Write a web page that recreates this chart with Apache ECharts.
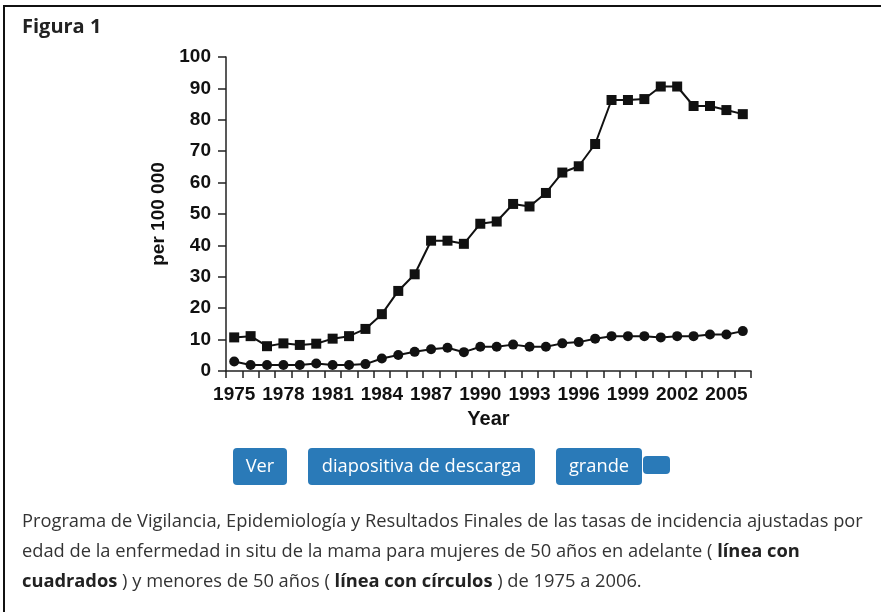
<!DOCTYPE html>
<html>
<head>
<meta charset="utf-8">
<script src="https://cdn.jsdelivr.net/npm/echarts@6/dist/echarts.min.js"></script>
<style>
html,body{margin:0;padding:0;background:#fff;}
#chart{width:881px;height:612px;}
</style>
</head>
<body>
<div id="chart"></div>
<script>
// ---- data ----
var years = ['1975','1976','1977','1978','1979','1980','1981','1982','1983','1984','1985','1986','1987','1988','1989','1990','1991','1992','1993','1994','1995','1996','1997','1998','1999','2000','2001','2002','2003','2004','2005','2006'];
// women aged 50 and over (line with squares)
var over50 = [10.7,11.1,7.9,8.8,8.3,8.7,10.3,11.1,13.4,18.1,25.5,30.8,41.5,41.5,40.5,46.9,47.6,53.2,52.4,56.7,63.2,65.2,72.3,86.3,86.3,86.6,90.6,90.6,84.4,84.4,83.1,81.8];
// women under 50 (line with circles)
var under50 = [3.0,1.9,1.9,1.9,1.9,2.4,1.9,1.9,2.2,4.0,5.1,6.1,6.9,7.4,6.0,7.7,7.7,8.4,7.7,7.7,8.8,9.2,10.3,11.1,11.1,11.1,10.7,11.1,11.1,11.6,11.6,12.7];
var yTicks = {min: 0, max: 100, interval: 10};
var titleText = 'Figura 1';
var yName = 'per 100 000';
var xName = 'Year';
var buttons = ['Ver', 'diapositiva de descarga', 'grande'];
var captionLines = [
  'Programa de Vigilancia, Epidemiología y Resultados Finales de las tasas de incidencia ajustadas por',
  'edad de la enfermedad in situ de la mama para mujeres de 50 años en adelante ( {b|línea con}',
  '{b|cuadrados} ) y menores de 50 años ( {b|línea con círculos} ) de 1975 a 2006.'
];

var chart = echarts.init(document.getElementById('chart'), null, {renderer: 'canvas'});
var axisFont = {fontFamily: 'Liberation Sans, Arial, sans-serif', fontWeight: 'bold', fontSize: 19, color: '#111'};
var uiFont = '"Open Sans", Lato, sans-serif';

// buttons geometry
var btnX = [233, 308, 556];
var btnW = [54, 227, 86];
var graphics = [
  {type: 'rect', shape: {x: 4, y: 6, width: 1000, height: 800}, style: {fill: 'none', stroke: '#111', lineWidth: 2}, silent: true, z: 0}
];
buttons.forEach(function (b, i) {
  graphics.push({
    type: 'rect', shape: {x: btnX[i], y: 448, width: btnW[i], height: 37, r: 4},
    style: {fill: '#2a7ab8'}, z: 1
  });
  graphics.push({
    type: 'text', x: btnX[i] + btnW[i] / 2, y: 467,
    style: {text: b, fill: '#ffffff', font: '18.3px ' + uiFont, textAlign: 'center', textVerticalAlign: 'middle'}, z: 2
  });
});
graphics.push({type: 'rect', shape: {x: 643, y: 456, width: 27, height: 18, r: 4}, style: {fill: '#2a7ab8'}, z: 1});
captionLines.forEach(function (t, i) {
  graphics.push({
    type: 'text', x: 22, y: 522 + i * 30,
    style: {
      text: t, fill: '#333333', font: '18.3px ' + uiFont, textVerticalAlign: 'middle',
      rich: {b: {fontWeight: 'bold', fontSize: 18.3, fontFamily: uiFont, fill: '#222222'}}
    }, z: 2
  });
});

var option = {
  backgroundColor: '#ffffff',
  animation: false,
  title: {
    text: titleText, left: 22, top: 17, padding: 0,
    textStyle: {fontFamily: uiFont, fontWeight: 'bold', fontSize: 20, color: '#222'}
  },
  grid: {left: 226, top: 57, width: 525, height: 314, containLabel: false},
  xAxis: {
    type: 'category', data: years, boundaryGap: true,
    name: xName, nameLocation: 'middle', nameGap: 38,
    nameTextStyle: {fontFamily: axisFont.fontFamily, fontWeight: 'bold', fontSize: 20, color: '#111'},
    axisLine: {lineStyle: {color: '#222', width: 1.5}},
    axisTick: {show: true, interval: 0, length: 7, lineStyle: {color: '#222', width: 1.5}},
    axisLabel: Object.assign({interval: 2, margin: 14}, axisFont),
    splitLine: {show: false}
  },
  yAxis: {
    type: 'value', min: yTicks.min, max: yTicks.max, interval: yTicks.interval,
    name: yName, nameLocation: 'middle', nameGap: 56, nameRotate: 90,
    nameTextStyle: {fontFamily: axisFont.fontFamily, fontWeight: 'bold', fontSize: 19, color: '#111'},
    axisLine: {show: true, lineStyle: {color: '#222', width: 1.5}},
    axisTick: {show: true, length: 8, lineStyle: {color: '#222', width: 1.5}},
    axisLabel: Object.assign({margin: 15}, axisFont),
    splitLine: {show: false}
  },
  series: [
    {
      name: '≥50', type: 'line', data: over50, symbol: 'rect', symbolSize: 10,
      lineStyle: {color: '#111', width: 2}, itemStyle: {color: '#111'}, z: 3
    },
    {
      name: '<50', type: 'line', data: under50, symbol: 'circle', symbolSize: 10,
      lineStyle: {color: '#111', width: 2}, itemStyle: {color: '#111'}, z: 3
    }
  ],
  graphic: graphics
};
chart.setOption(option);
</script>
</body>
</html>
